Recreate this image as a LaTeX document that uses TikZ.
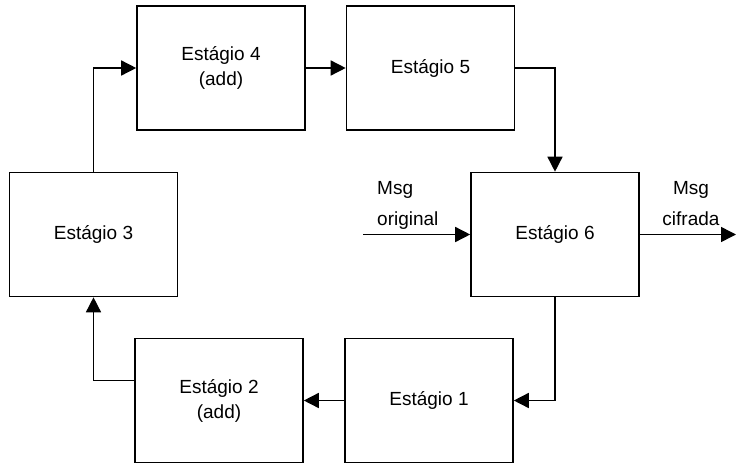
\documentclass[tikz,border=0pt]{standalone}
\usepackage{fontspec}
\setmainfont{Liberation Sans}
\usetikzlibrary{arrows.meta}
\begin{document}
\begin{tikzpicture}[x=1pt,y=-1pt,
  stagebox/.style={draw, line width=1.6pt, minimum width=168pt, minimum height=124pt,
    inner sep=0pt, align=center, font=\fontsize{19}{25}\selectfont},
  conn/.style={line width=1.5pt, -{Triangle[length=15pt,width=15pt]}},
  lbl/.style={inner sep=0pt, font=\fontsize{19}{25}\selectfont},
]
\useasboundingbox (0,0) rectangle (737,466);

% stages
\node[stagebox] (s4) at (221,68)    {Estágio 4\\(add)};
\node[stagebox] (s5) at (430.5,68)  {Estágio 5};
\node[stagebox] (s3) at (93.5,234.5){Estágio 3};
\node[stagebox] (s6) at (555,234.5) {Estágio 6};
\node[stagebox] (s2) at (219,400.5) {Estágio 2\\(add)};
\node[stagebox] (s1) at (429,400.5) {Estágio 1};

% message input / output
\coordinate (in)  at (363,234.5);
\coordinate (out) at (736,234.5);
\node[lbl, anchor=base west] (m1) at (377,194) {Msg};
\node[lbl, anchor=base west] (m2) at (377,225) {original};
\node[lbl, anchor=base] (c1) at (691,194) {Msg};
\node[lbl, anchor=base] (c2) at (691,225) {cifrada};

% stage chain
\draw[conn] (s5.east) -| (s6.north);
\draw[conn] (s6.south) |- (s1.east);
\draw[conn] (s1.west) -- (s2.east);
\draw[conn] ([yshift=20pt]s2.west) -| (s3.south);
\draw[conn] (s3.north) |- (s4.west);
\draw[conn] (s4.east) -- (s5.west);
\draw[conn] (in) -- (s6.west);
\draw[conn] (s6.east) -- (out);
\end{tikzpicture}
\end{document}
